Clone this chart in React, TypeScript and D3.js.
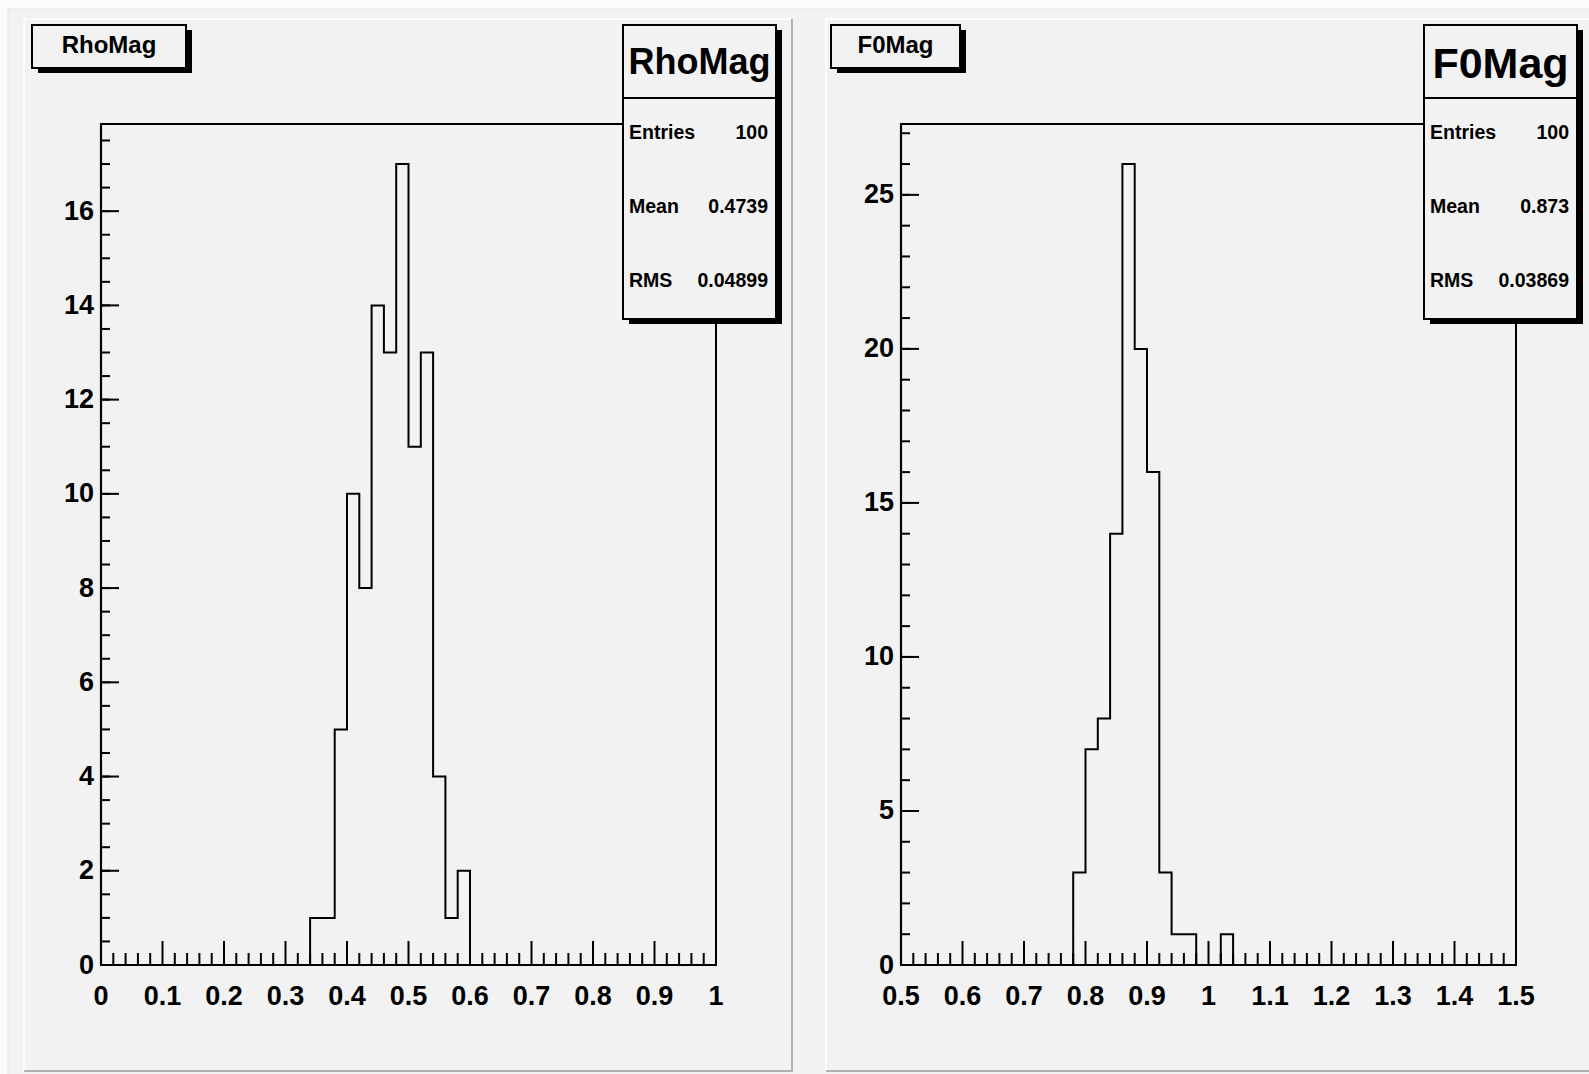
import * as d3 from "d3";

// bin contents, 50 bins of width 0.02
const rhoCounts = [
  0, 0, 0, 0, 0, 0, 0, 0, 0, 0,
  0, 0, 0, 0, 0, 0, 0, 1, 1, 5,
  10, 8, 14, 13, 17, 11, 13, 4, 1, 2,
  0, 0, 0, 0, 0, 0, 0, 0, 0, 0,
  0, 0, 0, 0, 0, 0, 0, 0, 0, 0,
];
const f0Counts = [
  0, 0, 0, 0, 0, 0, 0, 0, 0, 0,
  0, 0, 0, 0, 3, 7, 8, 14, 26, 20,
  16, 3, 1, 1, 0, 0, 1, 0, 0, 0,
  0, 0, 0, 0, 0, 0, 0, 0, 0, 0,
  0, 0, 0, 0, 0, 0, 0, 0, 0, 0,
];
const rhoRange = [0, 1];
const f0Range = [0.5, 1.5];
const statLabels = ["Entries", "Mean", "RMS"];
const rhoStats = ["100", "0.4739", "0.04899"];
const f0Stats = ["100", "0.873", "0.03869"];
const rhoYTicks = { major: 2, minor: 0.5 };
const f0YTicks = { major: 5, minor: 1 };

const FONT = "'Liberation Sans', Arial, Helvetica, sans-serif";
const fmt = d3.format(".1~f");

type PadProps = {
  dx: number;
  name: string;
  counts: number[];
  range: number[];
  yt: { major: number; minor: number };
  stats: string[];
  statsDx: number;
  statsTitleSize: number;
  statsTitleBase: number;
  titleW: number;
};

const ShadowBox = ({ x, y, w, h }: { x: number; y: number; w: number; h: number }) => (
  <g>
    <rect x={x + 6} y={y + 5} width={w} height={h} fill="#000" />
    <rect x={x} y={y} width={w} height={h} fill="#f2f2f2" stroke="#000" strokeWidth={2} />
  </g>
);

const Pad = ({ dx, name, counts, range, yt, stats, statsDx, statsTitleSize, statsTitleBase, titleW }: PadProps) => {
  const fr = { left: 101 + dx, right: 716 + dx, top: 124, bottom: 965 };
  const nb = counts.length;
  const bw = (range[1] - range[0]) / nb;
  const ymax = d3.max(counts)! * 1.05;
  const x = d3.scaleLinear().domain(range).range([fr.left, fr.right]);
  const y = d3.scaleLinear().domain([0, ymax]).range([fr.bottom, fr.top]);

  const pts: [number, number][] = [[range[0], 0]];
  counts.forEach((c, i) => pts.push([range[0] + i * bw, c]));
  pts.push([range[1], counts[nb - 1]], [range[1], 0]);
  const line = d3
    .line<[number, number]>()
    .x((d) => x(d[0]))
    .y((d) => y(d[1]))
    .curve(d3.curveStepAfter);

  const xMinor = d3.range(nb + 1).map((i) => range[0] + i * bw);
  const xMajor = d3.range(11).map((i) => range[0] + i * 0.1);
  const yMinor = d3.range(0, ymax, yt.minor);
  const yMajor = d3.range(0, ymax, yt.major);

  const sx = 623 + statsDx;
  const sw = 153;
  const tx = 32 + dx - (dx ? 1 : 0);

  return (
    <g fontFamily={FONT} fontWeight="bold">
      {/* frame */}
      <rect x={fr.left} y={fr.top} width={fr.right - fr.left} height={fr.bottom - fr.top} fill="none" stroke="#000" strokeWidth={2} />
      <path d={line(pts)!} fill="none" stroke="#000" strokeWidth={2} />
      {/* x axis */}
      <line x1={fr.left} x2={fr.right} y1={fr.bottom} y2={fr.bottom} stroke="#000" strokeWidth={2.2} />
      {xMinor.map((v, i) => (
        <line key={"xm" + i} x1={x(v)} x2={x(v)} y1={fr.bottom} y2={fr.bottom - (i % 5 === 0 ? 24 : 12)} stroke="#000" strokeWidth={2} />
      ))}
      {xMajor.map((v, i) => (
        <text key={"xl" + i} x={x(v)} y={1005} fontSize={27} textAnchor="middle">{fmt(v)}</text>
      ))}
      {/* y axis */}
      <line x1={fr.left} x2={fr.left} y1={fr.bottom} y2={fr.top} stroke="#000" strokeWidth={2.2} />
      {yMinor.map((v, i) => (
        <line key={"ym" + i} x1={fr.left} x2={fr.left + 9} y1={y(v)} y2={y(v)} stroke="#000" strokeWidth={2} />
      ))}
      {yMajor.map((v, i) => (
        <g key={"yl" + i}>
          <line x1={fr.left} x2={fr.left + 18} y1={y(v)} y2={y(v)} stroke="#000" strokeWidth={2} />
          <text x={fr.left - 7} y={y(v) + 8.5} fontSize={27} textAnchor="end">{fmt(v)}</text>
        </g>
      ))}
      {/* title */}
      <ShadowBox x={tx} y={25} w={titleW} h={43} />
      <text x={tx + titleW / 2} y={53} fontSize={24} textAnchor="middle">{name}</text>
      {/* stats */}
      <ShadowBox x={sx} y={25} w={sw} h={294} />
      <line x1={sx} x2={sx + sw} y1={98} y2={98} stroke="#000" strokeWidth={2} />
      <text x={sx + sw / 2} y={statsTitleBase} fontSize={statsTitleSize} textAnchor="middle">{name}</text>
      {statLabels.map((l, i) => (
        <g key={l} fontSize={19.5}>
          <text x={sx + 6} y={139 + i * 74}>{l}</text>
          <text x={sx + sw - 8} y={139 + i * 74} textAnchor="end">{stats[i]}</text>
        </g>
      ))}
    </g>
  );
};

export default function App() {
  return (
    <svg
      width={1589}
      height={1074}
      style={{ position: "absolute", left: 0, top: 0, display: "block" }}
    >
      <rect x={0} y={0} width={1589} height={1074} fill="#fbfbfb" />
      <rect x={8} y={9} width={1600} height={1070} fill="#f2f2f2" stroke="#e4e4e4" strokeWidth={1} />
      {/* pads with bevel */}
      <rect x={24} y={19} width={768} height={1052} fill="#f2f2f2" />
      <polyline points="24,1071 24,19 792,19" fill="none" stroke="#fff" strokeWidth={1.5} />
      <polyline points="24,1071 792,1071 792,19" fill="none" stroke="#b0b0b0" strokeWidth={2} />
      <rect x={826} y={19} width={780} height={1052} fill="#f2f2f2" />
      <polyline points="826,1071 826,19 1600,19" fill="none" stroke="#fff" strokeWidth={1.5} />
      <polyline points="826,1071 1600,1071" fill="none" stroke="#b0b0b0" strokeWidth={2} />
      <Pad dx={0} name="RhoMag" counts={rhoCounts} range={rhoRange} yt={rhoYTicks} stats={rhoStats}
        statsDx={0} statsTitleSize={36} statsTitleBase={74} titleW={154} />
      <Pad dx={800} name="F0Mag" counts={f0Counts} range={f0Range} yt={f0YTicks} stats={f0Stats}
        statsDx={801} statsTitleSize={43} statsTitleBase={78} titleW={129} />
    </svg>
  );
}
